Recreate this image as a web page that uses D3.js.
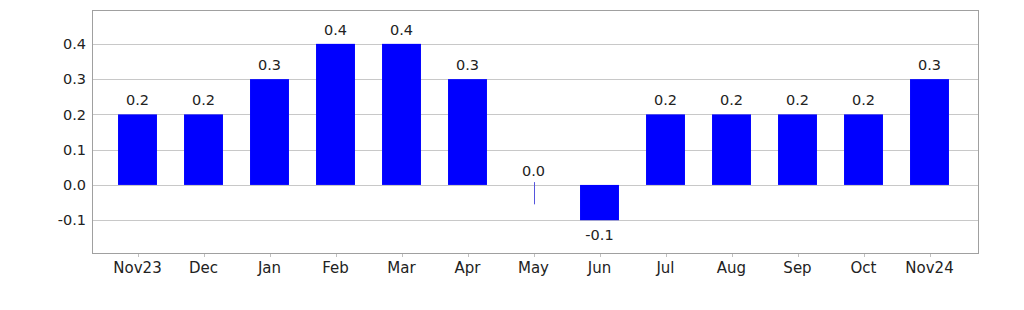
<!DOCTYPE html>
<html>
<head>
<meta charset="utf-8">
<script src="https://cdn.jsdelivr.net/npm/d3@7"></script>
<style>
  body { margin: 0; background: #fff; }
  text { font-family: "DejaVu Sans", sans-serif; fill: #222; }
</style>
</head>
<body>
<div id="chart"></div>
<script>
var months = ["Nov23", "Dec", "Jan", "Feb", "Mar", "Apr", "May", "Jun", "Jul", "Aug", "Sep", "Oct", "Nov24"];
var values = [0.2, 0.2, 0.3, 0.4, 0.4, 0.3, 0.0, -0.1, 0.2, 0.2, 0.2, 0.2, 0.3];
var yTicks = [-0.1, 0.0, 0.1, 0.2, 0.3, 0.4];

var width = 1024, height = 310;
var plot = {left: 92, right: 978, top: 10, bottom: 253};

var svg = d3.select("#chart").append("svg")
    .attr("width", width)
    .attr("height", height);

var x = d3.scaleBand()
    .domain(months)
    .range([104.5, 962.5])
    .paddingInner(0.41)
    .paddingOuter(0.205);

var y = d3.scaleLinear()
    .domain([-0.193, 0.496])
    .range([plot.bottom, plot.top]);

function fmt(d){ return d.toFixed(1); }

// grid lines
svg.append("g")
    .selectAll("line")
    .data(yTicks)
    .enter().append("line")
    .attr("x1", plot.left)
    .attr("x2", plot.right)
    .attr("y1", function(d){ return Math.round(y(d)) + 0.5; })
    .attr("y2", function(d){ return Math.round(y(d)) + 0.5; })
    .attr("stroke", "#c8c8c8")
    .attr("stroke-width", 1);

// y labels
svg.append("g")
    .selectAll("text")
    .data(yTicks)
    .enter().append("text")
    .attr("x", 86)
    .attr("y", function(d){ return y(d); })
    .attr("dy", "0.36em")
    .attr("text-anchor", "end")
    .style("font-size", "14.5px")
    .text(fmt);

// bars
svg.append("g")
    .selectAll("rect")
    .data(values)
    .enter().append("rect")
    .attr("x", function(d, i){ return x(months[i]); })
    .attr("width", x.bandwidth())
    .attr("y", function(d){ return y(Math.max(0, d)); })
    .attr("height", function(d){ return Math.abs(y(d) - y(0)); })
    .attr("fill", "#0000ff");

// zero-value marker (May)
values.forEach(function(d, i){
    if (d === 0) {
        var cx = Math.round(x(months[i]) + x.bandwidth() / 2) + 0.5;
        svg.append("line")
            .attr("x1", cx).attr("x2", cx)
            .attr("y1", y(0.008)).attr("y2", y(-0.055))
            .attr("stroke", "#5555dd")
            .attr("stroke-width", 1);
    }
});

// value labels
svg.append("g")
    .selectAll("text")
    .data(values)
    .enter().append("text")
    .attr("x", function(d, i){ return x(months[i]) + x.bandwidth() / 2; })
    .attr("y", function(d){ return d < 0 ? y(d) + 20 : y(d) - 9; })
    .attr("text-anchor", "middle")
    .style("font-size", "14.5px")
    .text(fmt);

// frame
svg.append("rect")
    .attr("x", plot.left + 0.5)
    .attr("y", plot.top + 0.5)
    .attr("width", plot.right - plot.left)
    .attr("height", plot.bottom - plot.top)
    .attr("fill", "none")
    .attr("stroke", "#a0a0a0")
    .attr("stroke-width", 1);

// x ticks and labels
var xg = svg.append("g");
xg.selectAll("line")
    .data(months)
    .enter().append("line")
    .attr("x1", function(d){ return Math.round(x(d) + x.bandwidth() / 2) + 0.5; })
    .attr("x2", function(d){ return Math.round(x(d) + x.bandwidth() / 2) + 0.5; })
    .attr("y1", plot.bottom + 1)
    .attr("y2", plot.bottom + 4)
    .attr("stroke", "#c0c0c0");

xg.selectAll("text")
    .data(months)
    .enter().append("text")
    .attr("x", function(d){ return x(d) + x.bandwidth() / 2; })
    .attr("y", 273)
    .attr("text-anchor", "middle")
    .style("font-size", "15px")
    .text(function(d){ return d; });
</script>
</body>
</html>
